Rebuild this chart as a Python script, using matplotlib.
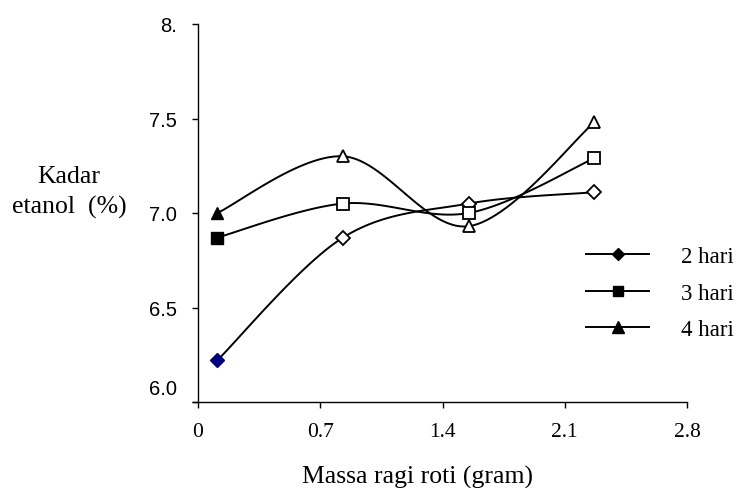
import numpy as np
import matplotlib
matplotlib.use("Agg")
import matplotlib.pyplot as plt
from matplotlib.lines import Line2D

# values
massa = [0.11, 0.83, 1.55, 2.27]
hari_2 = [6.22, 6.87, 7.05, 7.11]
hari_3 = [6.87, 7.05, 7.00, 7.29]
hari_4 = [7.00, 7.30, 6.93, 7.48]
series_names = ["2 hari", "3 hari", "4 hari"]
x_ticks = [0, 0.7, 1.4, 2.1, 2.8]
x_ticklabels = ["0", "0.7", "1.4", "2.1", "2.8"]
y_ticks = [6.5, 7.0, 7.5, 8.0]
y_ticklabels = ["6.5", "7.0", "7.5", "8."]

SERIF = "Liberation Serif"
SANS = "Liberation Sans"


def smooth(x, y, n=30):
    # Excel-style smoothed line: cubic Bezier through the points
    p = np.column_stack([x, y]).astype(float)
    pts = np.vstack([p[0], p, p[-1]])
    out = []
    for i in range(1, len(pts) - 2):
        p0, p1, p2, p3 = pts[i - 1], pts[i], pts[i + 1], pts[i + 2]
        c1 = p1 + (p2 - p0) / 6
        c2 = p2 - (p3 - p1) / 6
        t = np.linspace(0, 1, n)[:, None]
        seg = ((1 - t) ** 3 * p1 + 3 * (1 - t) ** 2 * t * c1
               + 3 * (1 - t) * t ** 2 * c2 + t ** 3 * p2)
        out.append(seg if i == 1 else seg[1:])
    out = np.vstack(out)
    return out[:, 0], out[:, 1]


fig = plt.figure(figsize=(7.4, 4.89), dpi=100)
ax = fig.add_axes([198 / 740, 1 - 403 / 489, (687 - 198) / 740, (403 - 25) / 489])

markers = ["D", "s", "^"]
sizes = [7.5, 8, 9]
first_colors = ["#000080", "black", "black"]
for ys, m, ms, fc in zip([hari_2, hari_3, hari_4], markers, sizes, first_colors):
    sx, sy = smooth(massa, ys)
    ax.plot(sx, sy, color="black", lw=1.4, zorder=2)
    ax.plot(massa[1:], ys[1:], ls="none", marker=m, ms=ms, mfc="white",
            mec="black", mew=1.3, zorder=3)
    ax.plot(massa[:1], ys[:1], ls="none", marker=m, ms=ms, mfc=fc,
            mec=fc, mew=1.0, zorder=3)

ax.set_xlim(0, 2.8)
ax.set_ylim(6.0, 8.0)
for s in ["top", "right"]:
    ax.spines[s].set_visible(False)
for s in ["left", "bottom"]:
    ax.spines[s].set_linewidth(1.0)

ax.set_xticks(x_ticks)
ax.set_xticklabels(x_ticklabels, fontfamily=SERIF, fontsize=15.5)
ax.set_yticks(y_ticks)
ax.set_yticklabels(y_ticklabels, fontfamily=SANS, fontsize=14.5)
ax.tick_params(axis="x", direction="out", length=4, width=1.0, pad=10.5)
ax.tick_params(axis="y", direction="out", length=4, width=1.0, pad=11)

# 6.0 label sits a little above its tick
ax.annotate("6.0", xy=(0, 6.0), xycoords=("axes fraction", "data"),
            xytext=(-15, 10), textcoords="offset points", ha="right",
            va="center", fontfamily=SANS, fontsize=14.5)
ax.plot([0, 0], [6.0, 6.0], marker=0, color="black", ms=4, mew=1.0,
        clip_on=False, transform=ax.transData)

fig.text(68.5 / 740, 1 - 183 / 489, "Kadar", ha="center", va="baseline",
         fontfamily=SERIF, fontsize=18.5)
fig.text(69.5 / 740, 1 - 214 / 489, "etanol  (%)", ha="center", va="baseline",
         fontfamily=SERIF, fontsize=18.5)
fig.text(418 / 740, 1 - 484 / 489, "Massa ragi roti (gram)", ha="center",
         va="baseline", fontfamily=SERIF, fontsize=18.5)

handles = [Line2D([], [], color="black", lw=1.4, marker=m, ms=ms - 1,
                  mfc="black", mec="black") for m, ms in zip(markers, sizes)]
leg = fig.legend(handles, series_names, loc="upper left",
                 bbox_to_anchor=(586 / 740, 1 - 247 / 489), frameon=False,
                 prop={"family": SERIF, "size": 16.5}, handlelength=2.75,
                 handletextpad=1.4, labelspacing=0.68, borderpad=0,
                 borderaxespad=0)

fig.savefig("out.png", dpi=100)
